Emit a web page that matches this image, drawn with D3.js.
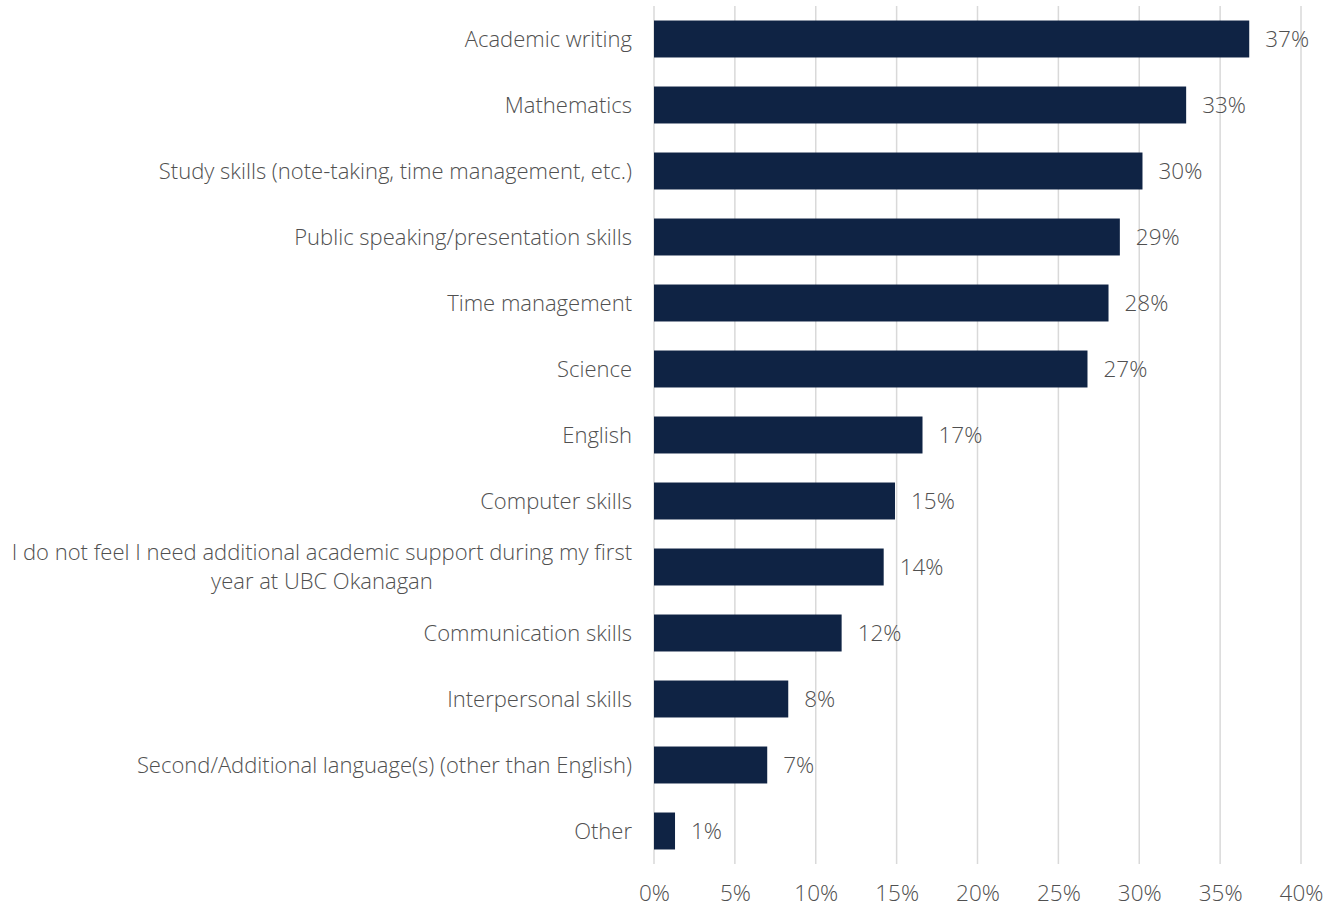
<!DOCTYPE html>
<html>
<head>
<meta charset="utf-8">
<script src="https://cdn.jsdelivr.net/npm/d3@7"></script>
<style>
  html, body { margin: 0; padding: 0; background: #fff; }
  svg text { font-family: "Open Sans", Lato, sans-serif; font-weight: 300; fill: #505050; }
</style>
</head>
<body>
<svg id="chart" width="1338" height="909"></svg>
<script>
// Share of respondents wanting academic support, by area
const categories = [
  "Academic writing",
  "Mathematics",
  "Study skills (note-taking, time management, etc.)",
  "Public speaking/presentation skills",
  "Time management",
  "Science",
  "English",
  "Computer skills",
  "I do not feel I need additional academic support during my first year at UBC Okanagan",
  "Communication skills",
  "Interpersonal skills",
  "Second/Additional language(s) (other than English)",
  "Other"
];
const shares = [0.368, 0.329, 0.302, 0.288, 0.281, 0.268, 0.166, 0.149, 0.142, 0.116, 0.083, 0.070, 0.013];
const tickValues = [0, 0.05, 0.10, 0.15, 0.20, 0.25, 0.30, 0.35, 0.40];

// Long category names that wrap onto two lines
const wrapped = {
  "I do not feel I need additional academic support during my first year at UBC Okanagan":
    ["I do not feel I need additional academic support during my first", "year at UBC Okanagan"]
};

const svg = d3.select("#chart");
const plotLeft = 654, plotRight = 1301, plotTop = 6, plotBottom = 864;

const x = d3.scaleLinear().domain([0, 0.40]).range([plotLeft, plotRight]);
const y = d3.scaleBand().domain(categories).range([plotTop, plotBottom]).paddingInner(0.44).paddingOuter(0.22);

// Vertical gridlines
svg.append("g").selectAll("line").data(tickValues).join("line")
  .attr("x1", d => x(d)).attr("x2", d => x(d))
  .attr("y1", plotTop).attr("y2", plotBottom)
  .attr("stroke", "#d9d9d9").attr("stroke-width", 1.5);

// X axis tick labels
const xAxis = d3.axisBottom(x).tickValues(tickValues).tickFormat(d3.format(".0%")).tickSize(0).tickPadding(0);
const gx = svg.append("g").attr("transform", `translate(0,${plotBottom + 21})`).call(xAxis);
gx.select(".domain").remove();
gx.selectAll("text").attr("font-size", 22.5).attr("dy", "0.71em").attr("fill", "#505050")
  .style("font-family", "'Open Sans', Lato, sans-serif");

// Bars
svg.append("g").selectAll("rect").data(categories).join("rect")
  .attr("x", x(0))
  .attr("y", d => y(d))
  .attr("width", (d, i) => x(shares[i]) - x(0))
  .attr("height", y.bandwidth())
  .attr("fill", "#0f2344");

// Value labels
svg.append("g").selectAll("text").data(categories).join("text")
  .attr("x", (d, i) => x(shares[i]) + 16)
  .attr("y", d => y(d) + y.bandwidth() / 2)
  .attr("dy", "0.36em")
  .attr("font-size", 22.5)
  .text((d, i) => d3.format(".0%")(shares[i]));

// Category labels
const lab = svg.append("g").selectAll("text").data(categories).join("text")
  .attr("x", plotLeft - 22)
  .attr("y", d => y(d) + y.bandwidth() / 2)
  .attr("text-anchor", "end")
  .attr("font-size", 22);
lab.each(function(d) {
  const lines = wrapped[d] || [d];
  const t = d3.select(this);
  const n = lines.length;
  lines.forEach((line, k) => {
    t.append("tspan")
      .attr("x", plotLeft - 22)
      .attr("dy", k === 0 ? `${0.36 - (n - 1) * 0.66}em` : "1.32em")
      .attr("text-anchor", k === 0 ? "end" : "middle")
      .text(line);
  });
});
// Second line of a wrapped label is centred under the first
lab.each(function() {
  const spans = d3.select(this).selectAll("tspan").nodes();
  if (spans.length > 1) {
    const w = spans[0].getComputedTextLength();
    d3.select(spans[1]).attr("x", plotLeft - 22 - w / 2);
  }
});
</script>
</body>
</html>
